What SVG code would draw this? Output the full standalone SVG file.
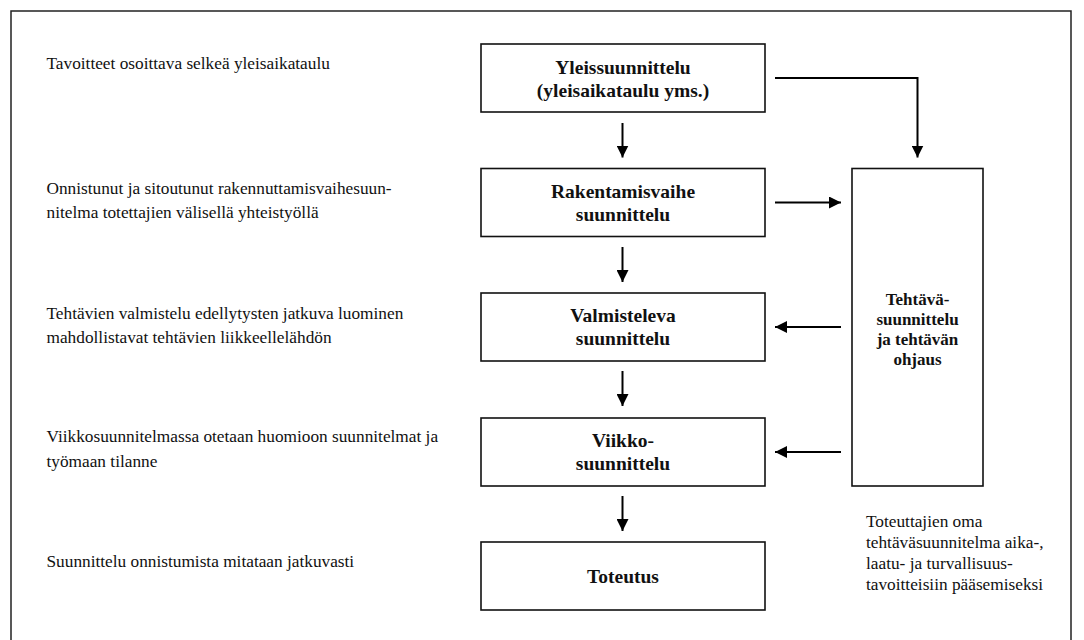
<svg xmlns="http://www.w3.org/2000/svg" width="1084" height="640" viewBox="0 0 1084 640">
<defs>
<marker id="ah" markerUnits="userSpaceOnUse" markerWidth="12" markerHeight="12" refX="12" refY="6" orient="auto" viewBox="0 0 12 12">
<path d="M0,0 L12,6 L0,12 Z" fill="#000"/>
</marker>
<style>
.frame{fill:none;stroke:#222;stroke-width:1.5}
.box{fill:#fff;stroke:#111;stroke-width:1.6}
.conn{fill:none;stroke:#000;stroke-width:2;marker-end:url(#ah)}
text{font-family:'Liberation Serif','DejaVu Serif',serif}
.lbl{font-size:17.3px;fill:#111}
.bt{font-size:19.5px;font-weight:bold;fill:#111;text-anchor:middle}
.bs{font-size:17px;font-weight:bold;fill:#111;text-anchor:middle}
</style>
</defs>
<rect width="1084" height="640" fill="#fff"/>
<path class="frame" d="M11,642 L11,11 L1071,11 L1071,642"/>

<g id="notes">
<text class="lbl" x="46.5" y="69">Tavoitteet osoittava selkeä yleisaikataulu</text>
<text class="lbl" x="46.5" y="194">Onnistunut ja sitoutunut rakennuttamisvaihesuun-</text>
<text class="lbl" x="46.5" y="218">nitelma totettajien välisellä yhteistyöllä</text>
<text class="lbl" x="46.5" y="319">Tehtävien valmistelu edellytysten jatkuva luominen</text>
<text class="lbl" x="46.5" y="343">mahdollistavat tehtävien liikkeellelähdön</text>
<text class="lbl" x="46.5" y="442">Viikkosuunnitelmassa otetaan huomioon suunnitelmat ja</text>
<text class="lbl" x="46.5" y="466.5">työmaan tilanne</text>
<text class="lbl" x="46.5" y="567">Suunnittelu onnistumista mitataan jatkuvasti</text>
</g>

<g id="yleissuunnittelu">
<rect class="box" x="481" y="44" width="284" height="68"/>
<text class="bt" x="623" y="74">Yleissuunnittelu</text>
<text class="bt" x="623" y="97">(yleisaikataulu yms.)</text>
</g>
<g id="rakentamisvaihe">
<rect class="box" x="481" y="168.5" width="284" height="68"/>
<text class="bt" x="623" y="197.5">Rakentamisvaihe</text>
<text class="bt" x="623" y="220.5">suunnittelu</text>
</g>
<g id="valmisteleva">
<rect class="box" x="481" y="293" width="284" height="68"/>
<text class="bt" x="623" y="322">Valmisteleva</text>
<text class="bt" x="623" y="345">suunnittelu</text>
</g>
<g id="viikko">
<rect class="box" x="481" y="418" width="284" height="68"/>
<text class="bt" x="623" y="447">Viikko-</text>
<text class="bt" x="623" y="470">suunnittelu</text>
</g>
<g id="toteutus">
<rect class="box" x="481" y="542" width="284" height="68"/>
<text class="bt" x="623" y="582.5">Toteutus</text>
</g>
<g id="tehtava">
<rect class="box" x="852" y="168.5" width="131" height="317.5"/>
<text class="bs" x="917.5" y="305">Tehtävä-</text>
<text class="bs" x="917.5" y="325">suunnittelu</text>
<text class="bs" x="917.5" y="345">ja tehtävän</text>
<text class="bs" x="917.5" y="365">ohjaus</text>
</g>
<g id="tehtava-note">
<text class="lbl" x="866" y="527">Toteuttajien oma</text>
<text class="lbl" x="866" y="548">tehtäväsuunnitelma aika-,</text>
<text class="lbl" x="866" y="569">laatu- ja turvallisuus-</text>
<text class="lbl" x="866" y="590">tavoitteisiin pääsemiseksi</text>
</g>

<g id="connectors">
<line class="conn" x1="622.5" y1="123" x2="622.5" y2="157.5"/>
<line class="conn" x1="622.5" y1="247" x2="622.5" y2="282"/>
<line class="conn" x1="622.5" y1="371" x2="622.5" y2="406"/>
<line class="conn" x1="622.5" y1="496" x2="622.5" y2="531"/>
<path class="conn" d="M775,78 L917.5,78 L917.5,157.5"/>
<line class="conn" x1="775" y1="202.5" x2="841" y2="202.5"/>
<line class="conn" x1="841" y1="327" x2="775" y2="327"/>
<line class="conn" x1="841" y1="452" x2="775" y2="452"/>
</g>
</svg>
